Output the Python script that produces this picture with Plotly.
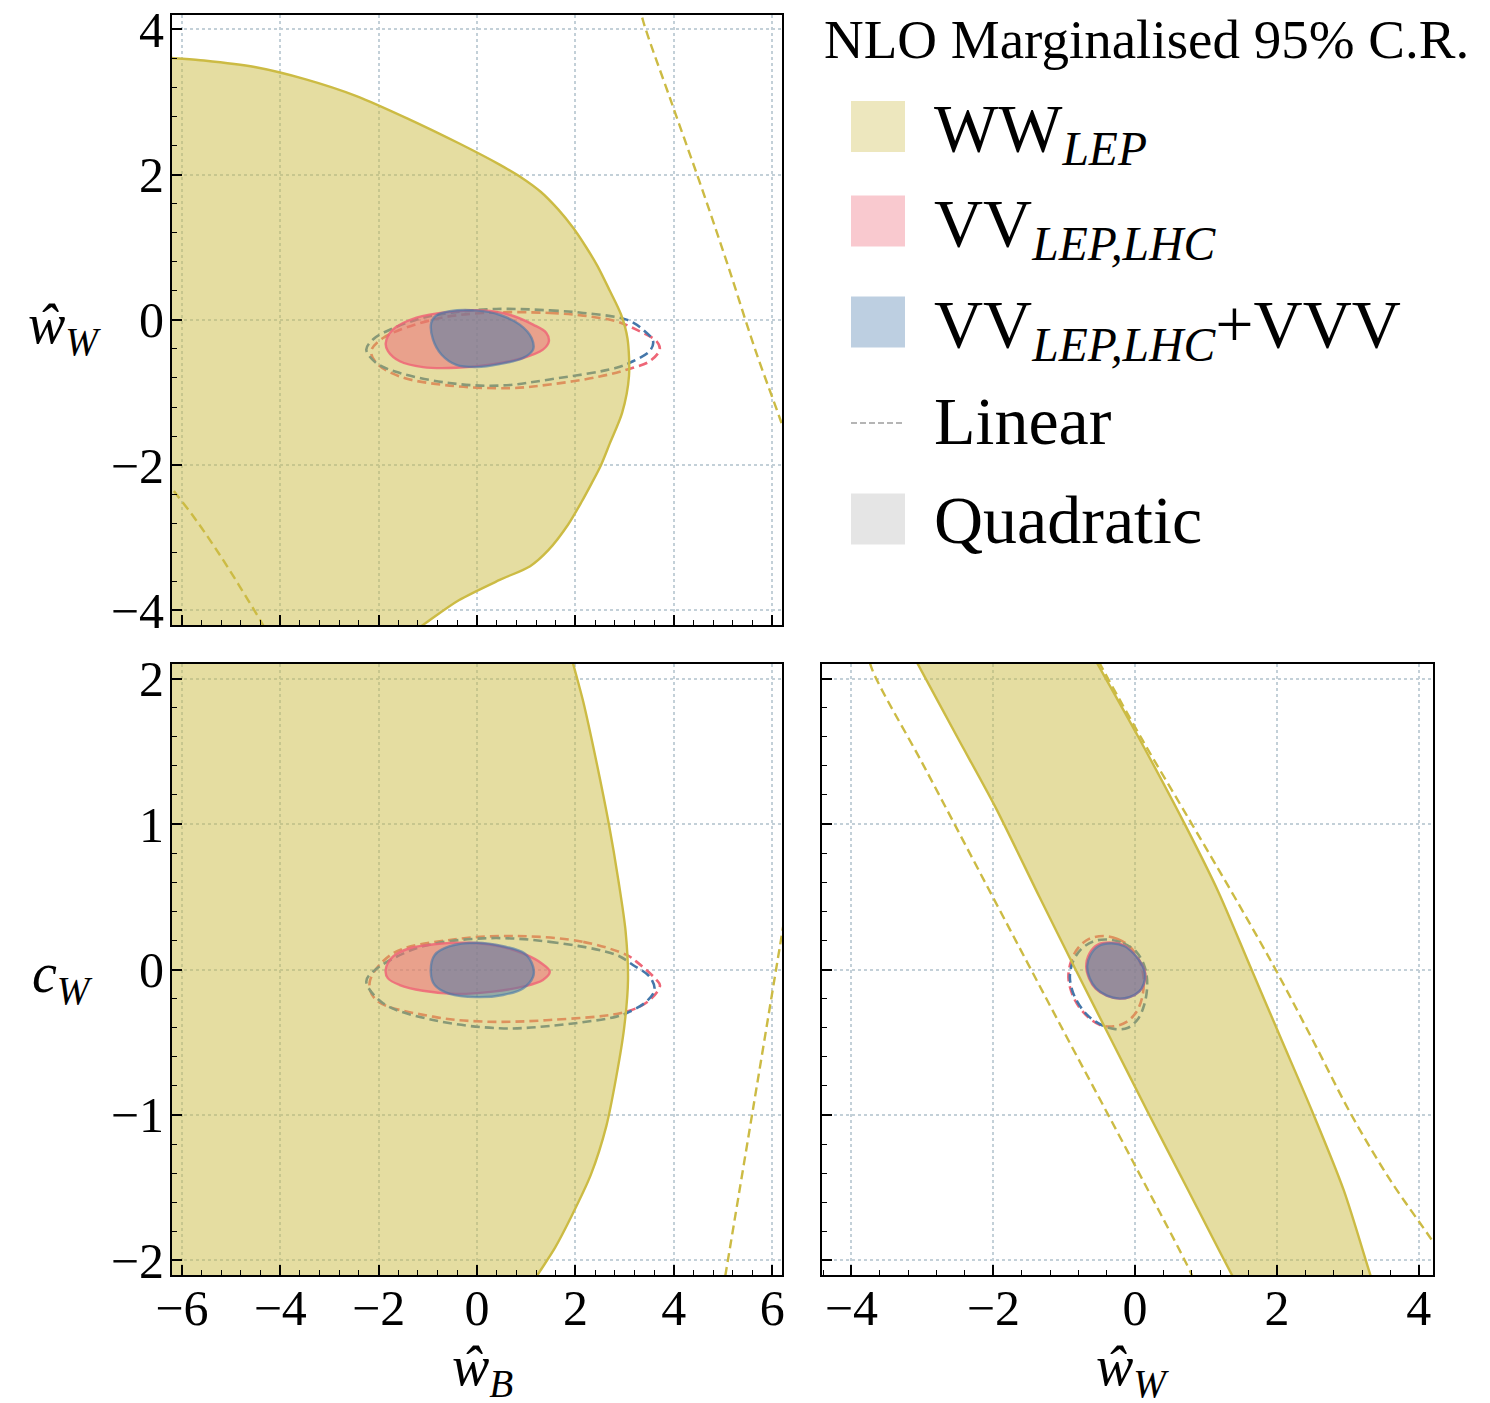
import plotly.graph_objects as go

W, H = 1490, 1403
FONT = "Liberation Serif"

# ---------------- data ----------------
# axis ranges
wB_lim = [-6.2, 6.2]
wW_lim_top = [-4.2, 4.2]
cW_lim = [-2.1, 2.1]
wW_lim_bottom = [-4.415, 4.2]

# ---- Panel 1: w_B (x) vs w_W (y) ----
p1_ww_quad_x = [-6.6, -6.2, -5.55, -4.52, -3.48, -2.45, -1.41, -0.37, 0.45, 0.9, 1.3, 1.65, 1.95,
                2.2, 2.45, 2.7, 2.93, 3.06, 3.09, 2.95, 2.70, 2.52, 2.33, 2.13, 1.85, 1.45, 1.08,
                0.46, -0.37, -1.10, -1.96, -6.6, -6.6]
p1_ww_quad_y = [3.63, 3.605, 3.57, 3.48, 3.31, 3.08, 2.77, 2.43, 2.14, 1.96, 1.76, 1.52, 1.27,
                1.02, 0.74, 0.40, 0.07, -0.26, -0.77, -1.28, -1.70, -2.0, -2.25, -2.5, -2.82,
                -3.17, -3.39, -3.58, -3.86, -4.2, -4.6, -4.6, 3.63]
p1_ww_lin_a_x = [3.30, 3.37, 3.95, 4.55, 5.10, 5.65, 6.19, 6.30]
p1_ww_lin_a_y = [4.35, 4.13, 3.00, 1.85, 0.75, -0.40, -1.42, -1.65]
p1_ww_lin_b_x = [-6.32, -6.2, -5.75, -5.33, -4.85, -4.35, -4.22]
p1_ww_lin_b_y = [-2.20, -2.32, -2.72, -3.13, -3.64, -4.20, -4.36]

p1_vv_quad_x = [-1.855, -1.81, -1.57, -1.10, -0.42, 0.26, 0.935, 1.34, 1.46, 1.41, 1.14, 0.665,
                0.12, -0.555, -1.23, -1.71, -1.855]
p1_vv_quad_y = [-0.32, -0.43, -0.57, -0.65, -0.66, -0.617, -0.525, -0.41, -0.30, -0.18, -0.066,
                0.07, 0.13, 0.11, 0.03, -0.135, -0.32]
p1_vvv_quad_x = [-0.93, -0.83, -0.555, -0.01, 0.46, 0.87, 1.11, 1.14, 0.935, 0.46, -0.01, -0.42,
                 -0.72, -0.895, -0.93]
p1_vvv_quad_y = [-0.04, 0.06, 0.12, 0.13, 0.07, -0.066, -0.25, -0.41, -0.525, -0.61, -0.65, -0.62,
                 -0.48, -0.27, -0.04]

p1_vv_lin_x = [0.12, 1.48, 2.16, 2.835, 3.24, 3.65, 3.715, 3.51, 3.17, 2.495, 1.48, 0.665, -0.555,
               -1.57, -2.045, -2.15, -1.91, -0.895, 0.12]
p1_vv_lin_y = [0.095, 0.095, 0.058, -0.02, -0.135, -0.295, -0.41, -0.57, -0.66, -0.78, -0.89,
               -0.94, -0.905, -0.78, -0.595, -0.43, -0.25, 0.003, 0.095]
p1_vvv_lin_x = [0.39, 1.48, 2.16, 3.04, 3.375, 3.58, 3.51, 3.17, 2.835, 1.48, 0.46, -0.555, -1.57,
                -2.045, -2.25, -2.115, -1.91, -1.23, -0.555, 0.39]
p1_vvv_lin_y = [0.15, 0.13, 0.095, 0.003, -0.135, -0.295, -0.43, -0.57, -0.66, -0.82, -0.905,
                -0.87, -0.73, -0.595, -0.41, -0.27, -0.18, 0.003, 0.095, 0.15]

# ---- Panel 2: w_B (x) vs c_W (y) ----
p2_ww_quad_x = [-6.6, 1.72, 1.95, 2.16, 2.42, 2.68, 2.88, 3.02, 3.07, 2.99, 2.83, 2.63, 2.315,
                1.90, 1.59, 1.23, 0.66, -6.6, -6.6]
p2_ww_quad_y = [2.4, 2.4, 2.107, 1.84, 1.44, 1.00, 0.60, 0.265, -0.07, -0.405, -0.74, -1.075,
                -1.41, -1.71, -1.91, -2.10, -2.4, -2.4, 2.4]
p2_ww_lin_x = [5.0, 5.05, 5.62, 6.16, 6.25]
p2_ww_lin_y = [-2.2, -2.10, -0.94, 0.165, 0.35]

p2_vv_quad_x = [-1.857, -1.81, -1.57, -1.10, -0.42, 0.325, 0.935, 1.34, 1.48, 1.31, 1.005, 0.46,
                -0.15, -0.826, -1.37, -1.71, -1.857]
p2_vv_quad_y = [-0.003, -0.061, -0.107, -0.146, -0.168, -0.152, -0.118, -0.072, -0.015, 0.043,
                0.10, 0.16, 0.184, 0.175, 0.146, 0.088, -0.003]
p2_vvv_quad_x = [-0.94, -0.86, -0.555, -0.01, 0.53, 0.935, 1.14, 1.14, 0.97, 0.53, -0.01, -0.555,
                 -0.86, -0.94]
p2_vvv_quad_y = [-0.015, -0.107, -0.168, -0.19, -0.175, -0.13, -0.05, 0.02, 0.11, 0.16, 0.184,
                 0.16, 0.10, -0.015]

p2_vv_lin_x = [0.80, 2.16, 3.04, 3.24, 3.65, 3.72, 3.51, 3.04, 1.48, 0.12, -0.895, -2.05, -2.18,
               -1.71, -0.555, 0.80]
p2_vv_lin_y = [0.23, 0.19, 0.10, 0.054, -0.072, -0.11, -0.21, -0.29, -0.347, -0.358, -0.324,
               -0.21, -0.084, 0.11, 0.203, 0.23]
p2_vvv_lin_x = [0.12, 1.48, 2.835, 3.17, 3.51, 3.61, 3.445, 3.105, 2.835, 1.48, 0.46, -0.895,
                -1.91, -2.25, -2.115, -1.23, 0.12]
p2_vvv_lin_y = [0.214, 0.19, 0.10, 0.031, -0.05, -0.14, -0.22, -0.29, -0.324, -0.388, -0.404,
                -0.347, -0.232, -0.084, -0.015, 0.146, 0.214]

# ---- Panel 3: w_W (x) vs c_W (y) ----
p3_ww_quad_x = [-3.29, -3.07, -2.51, -1.97, -1.35, -0.84, -0.32, 0.20, 0.73, 1.366, 1.6,
                3.45, 3.317, 2.94, 2.50, 2.058, 1.617, 1.177, 0.736, 0.044, -0.535, -0.76, -3.29]
p3_ww_quad_y = [2.3, 2.105, 1.6, 1.116, 0.5, 0.0, -0.5, -1.0, -1.5, -2.10, -2.3,
                -2.3, -2.10, -1.515, -0.979, -0.476, 0.027, 0.53, 0.965, 1.60, 2.105, 2.3, 2.3]
p3_ww_lin_a_x = [-3.78, -3.71, -2.98, -2.03, -1.10, -0.02, 0.80, 0.88]
p3_ww_lin_a_y = [2.2, 2.065, 1.40, 0.52, -0.34, -1.33, -2.10, -2.2]
p3_ww_lin_b_x = [-0.60, -0.50, 0.10, 0.80, 1.40, 1.98, 2.52, 3.05, 3.60, 4.17, 4.30]
p3_ww_lin_b_y = [2.2, 2.105, 1.58, 1.0, 0.50, 0.0, -0.5, -1.0, -1.45, -1.85, -1.95]

p3_vv_quad_x = [-0.34, -0.15, -0.02, 0.10, 0.145, 0.125, 0.06, -0.08, -0.22, -0.40, -0.56, -0.65,
                -0.69, -0.645, -0.53, -0.34]
p3_vv_quad_y = [0.185, 0.165, 0.11, 0.03, -0.03, -0.10, -0.15, -0.19, -0.20, -0.18, -0.13,
                -0.06, 0.02, 0.11, 0.17, 0.185]
p3_vvv_quad_x = [-0.34, -0.15, -0.02, 0.10, 0.14, 0.12, 0.06, -0.08, -0.22, -0.40, -0.55, -0.64,
                 -0.677, -0.63, -0.52, -0.34]
p3_vvv_quad_y = [0.18, 0.16, 0.11, 0.03, -0.03, -0.10, -0.15, -0.19, -0.20, -0.18, -0.13, -0.06,
                 0.02, 0.10, 0.16, 0.18]

p3_vv_lin_x = [-0.45, -0.25, -0.08, 0.06, 0.12, 0.10, 0.02, -0.12, -0.30, -0.50, -0.70, -0.86,
               -0.94, -0.90, -0.80, -0.65, -0.45]
p3_vv_lin_y = [0.23, 0.21, 0.16, 0.06, -0.06, -0.19, -0.29, -0.36, -0.39, -0.38, -0.31, -0.20,
               -0.06, 0.06, 0.15, 0.21, 0.23]
p3_vvv_lin_x = [-0.36, -0.17, 0.02, 0.14, 0.17, 0.13, 0.04, -0.10, -0.28, -0.48, -0.68, -0.85,
                -0.92, -0.88, -0.76, -0.58, -0.36]
p3_vvv_lin_y = [0.205, 0.18, 0.12, 0.01, -0.11, -0.24, -0.34, -0.40, -0.41, -0.38, -0.31, -0.19,
                -0.06, 0.05, 0.14, 0.195, 0.205]

# legend texts
legend_title = "NLO Marginalised 95% C.R."
legend_labels = ["WW<sub><i>LEP</i></sub>",
                 "VV<sub><i>LEP,LHC</i></sub>",
                 "VV<sub><i>LEP,LHC</i></sub>+VVV",
                 "Linear",
                 "Quadratic"]

# ---------------- styles ----------------
YEL = "#CCBB44"
RED = "#EE6677"
BLU = "#4477AA"
YEL_FILL = "rgba(204,187,68,0.5)"
RED_FILL = "rgba(238,102,119,0.5)"
BLU_FILL = "rgba(68,119,170,0.5)"
DASH = "9px,5px"

fig = go.Figure()


def add(x, y, xa, ya, color, width=2.3, dash=None, fillcolor=None, smooth=1.0):
    fig.add_trace(go.Scatter(
        x=x, y=y, xaxis=xa, yaxis=ya, mode="lines",
        line=dict(color=color, width=width, dash=dash, shape="spline", smoothing=smooth),
        fill="toself" if fillcolor else None, fillcolor=fillcolor,
        hoverinfo="skip", showlegend=False))


panels = [
    ("x", "y", p1_vv_lin_x, p1_vv_lin_y, p1_vvv_lin_x, p1_vvv_lin_y, p1_ww_quad_x, p1_ww_quad_y,
     [(p1_ww_lin_a_x, p1_ww_lin_a_y), (p1_ww_lin_b_x, p1_ww_lin_b_y)],
     p1_vv_quad_x, p1_vv_quad_y, p1_vvv_quad_x, p1_vvv_quad_y),
    ("x2", "y2", p2_vv_lin_x, p2_vv_lin_y, p2_vvv_lin_x, p2_vvv_lin_y, p2_ww_quad_x, p2_ww_quad_y,
     [(p2_ww_lin_x, p2_ww_lin_y)],
     p2_vv_quad_x, p2_vv_quad_y, p2_vvv_quad_x, p2_vvv_quad_y),
    ("x3", "y3", p3_vv_lin_x, p3_vv_lin_y, p3_vvv_lin_x, p3_vvv_lin_y, p3_ww_quad_x, p3_ww_quad_y,
     [(p3_ww_lin_a_x, p3_ww_lin_a_y), (p3_ww_lin_b_x, p3_ww_lin_b_y)],
     p3_vv_quad_x, p3_vv_quad_y, p3_vvv_quad_x, p3_vvv_quad_y),
]

for (xa, ya, rlx, rly, blx, bly, yqx, yqy, ylins, rqx, rqy, bqx, bqy) in panels:
    add(rlx, rly, xa, ya, RED, width=2.6, dash=DASH)
    add(blx, bly, xa, ya, BLU, width=2.6, dash=DASH)
    add(yqx, yqy, xa, ya, YEL, width=2.4, fillcolor=YEL_FILL, smooth=0.8)
    for lx, ly in ylins:
        add(lx, ly, xa, ya, YEL, dash=DASH, width=2.4)
    add(rqx, rqy, xa, ya, "rgba(238,102,119,0.85)", width=2.4, fillcolor=RED_FILL)
    add(bqx, bqy, xa, ya, "rgba(68,119,170,0.6)", width=2.4, fillcolor=BLU_FILL)


def px_x(a, b):
    return [a / W, b / W]


def px_y(top, bottom):
    return [1 - bottom / H, 1 - top / H]


tickfont = dict(family=FONT, size=50, color="black")
common = dict(showline=True, linecolor="black", linewidth=2, mirror=True,
              ticks="inside", ticklen=10, tickwidth=1.6, tickcolor="black",
              showgrid=True, gridcolor="#c3d0d8", griddash="dot", gridwidth=1.5,
              zeroline=False, tickfont=tickfont, fixedrange=True, tick0=0,
              automargin=False)


def minor(d):
    return dict(ticks="inside", ticklen=5, tickwidth=1.2, tickcolor="black",
                dtick=d, tick0=0, showgrid=False)


fig.update_layout(
    width=W, height=H, margin=dict(l=0, r=0, t=0, b=0, autoexpand=False),
    paper_bgcolor="white", plot_bgcolor="white", showlegend=False,
    xaxis=dict(common, domain=px_x(172, 782), range=wB_lim, anchor="y", dtick=2,
               minor=minor(0.4), showticklabels=False),
    yaxis=dict(common, domain=px_y(14.7, 625), range=wW_lim_top, anchor="x", dtick=2,
               minor=minor(0.4), ticklabelstandoff=-4),
    xaxis2=dict(common, domain=px_x(172, 782), range=wB_lim, anchor="y2", dtick=2,
                minor=minor(0.4), ticklabelstandoff=-12),
    yaxis2=dict(common, domain=px_y(664, 1275), range=cW_lim, anchor="x2", dtick=1,
                minor=minor(0.2), ticklabelstandoff=-4),
    xaxis3=dict(common, domain=px_x(822, 1433), range=wW_lim_bottom, anchor="y3", dtick=2,
                minor=minor(0.4), ticklabelstandoff=-12),
    yaxis3=dict(common, domain=px_y(664, 1275), range=cW_lim, anchor="x3", dtick=1,
                minor=minor(0.2), showticklabels=False),
)

# ---------------- axis labels ----------------
lab_font = dict(family=FONT, size=56, color="black")
axis_labels = [
    ("<i>ŵ</i><sub><i>W</i></sub>", 64, 328),
    ("<i>c</i><sub><i>W</i></sub>", 62, 977),
    ("<i>ŵ</i><sub><i>B</i></sub>", 482, 1370),
    ("<i>ŵ</i><sub><i>W</i></sub>", 1132, 1370),
]
for txt, x, y in axis_labels:
    fig.add_annotation(text=txt, x=x / W, y=1 - y / H, xref="paper", yref="paper",
                       xanchor="center", yanchor="middle", showarrow=False, font=lab_font)

# ---------------- legend (drawn manually) ----------------
fig.add_annotation(text=legend_title, x=822 / W, y=1 - 40 / H, xref="paper", yref="paper",
                   xanchor="left", yanchor="middle", showarrow=False,
                   font=dict(family=FONT, size=55, color="black"))
patch_colors = ["#EDE7BE", "#F9C9CF", "#BDCFE1", None, "#E5E5E5"]
row_centers = [126.5, 221, 322, 423, 519]
text_centers = [132, 227, 328, 421, 520]
for lab, col, yc, yt in zip(legend_labels, patch_colors, row_centers, text_centers):
    if col is None:
        fig.add_shape(type="line", xref="paper", yref="paper",
                      x0=851 / W, x1=905 / W, y0=1 - yc / H, y1=1 - yc / H,
                      line=dict(color="#b5b5b5", width=2, dash="6px,3px"))
    else:
        fig.add_shape(type="rect", xref="paper", yref="paper",
                      x0=851 / W, x1=905 / W, y0=1 - (yc + 25.5) / H, y1=1 - (yc - 25.5) / H,
                      line=dict(width=0), fillcolor=col)
    fig.add_annotation(text=lab, x=932 / W, y=1 - yt / H, xref="paper", yref="paper",
                       xanchor="left", yanchor="middle", showarrow=False,
                       font=dict(family=FONT, size=68, color="black"))

fig.write_html("out.html")
